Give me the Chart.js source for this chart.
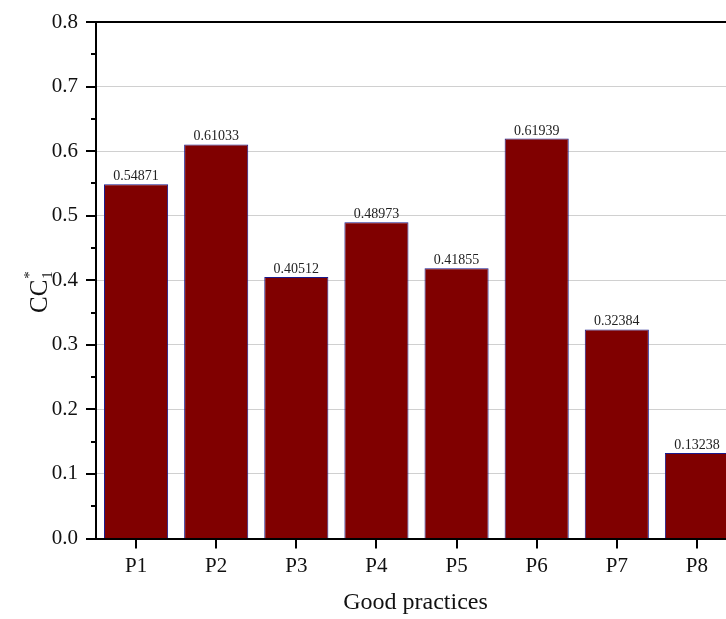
<!DOCTYPE html>
<html lang="en">
<head>
    <meta charset="UTF-8">
    <title>Good practices - CC1*</title>
    <style>
        html, body {
            margin: 0;
            padding: 0;
            overflow: hidden;
            background: #fff;
        }
        #wrap {
            width: 740px;
            height: 619px;
        }
    </style>
</head>
<body>
    <div id="wrap">
        <canvas id="myChart" width="740" height="619"></canvas>
    </div>

    <script src="https://cdn.jsdelivr.net/npm/chart.js@4"></script>
    <script>
        var categories = ['P1', 'P2', 'P3', 'P4', 'P5', 'P6', 'P7', 'P8'];
        var values = [0.54871, 0.61033, 0.40512, 0.48973, 0.41855, 0.61939, 0.32384, 0.13238];
        var valueLabels = ['0.54871', '0.61033', '0.40512', '0.48973', '0.41855', '0.61939', '0.32384', '0.13238'];
        var majorTicks = [0, 0.1, 0.2, 0.3, 0.4, 0.5, 0.6, 0.7, 0.8];
        var minorTicks = [0.05, 0.15, 0.25, 0.35, 0.45, 0.55, 0.65, 0.75];

        var serif = "'Liberation Serif', 'Times New Roman', serif";

        // ticks, frame, value labels and axis titles
        var decorations = {
            id: 'decorations',
            afterDraw: function(chart) {
                var ctx = chart.ctx;
                var area = chart.chartArea;
                var y = chart.scales.y;
                var x = chart.scales.x;
                ctx.save();
                ctx.strokeStyle = '#000';
                ctx.lineWidth = 2;
                ctx.beginPath();
                majorTicks.forEach(function(v) {
                    var py = Math.round(y.getPixelForValue(v));
                    ctx.moveTo(area.left - 10, py);
                    ctx.lineTo(area.left, py);
                });
                minorTicks.forEach(function(v) {
                    var py = Math.round(y.getPixelForValue(v));
                    ctx.moveTo(area.left - 5, py);
                    ctx.lineTo(area.left, py);
                });
                categories.forEach(function(c, i) {
                    var px = Math.round(x.getPixelForValue(i));
                    ctx.moveTo(px, area.bottom);
                    ctx.lineTo(px, area.bottom + 10);
                });
                // top frame
                ctx.moveTo(area.left - 1, area.top);
                ctx.lineTo(area.right, area.top);
                ctx.stroke();

                // value labels
                var meta = chart.getDatasetMeta(0);
                ctx.fillStyle = '#222';
                ctx.font = '14px ' + serif;
                ctx.textAlign = 'center';
                ctx.textBaseline = 'alphabetic';
                meta.data.forEach(function(bar, i) {
                    ctx.fillText(valueLabels[i], bar.x, bar.y - 4);
                });

                // x title
                ctx.fillStyle = '#111';
                ctx.font = '24px ' + serif;
                ctx.fillText('Good practices', (area.left + area.right) / 2 - 1, area.bottom + 70);

                // y title: CC with superscript * and subscript 1
                ctx.translate(47, 313);
                ctx.rotate(-Math.PI / 2);
                ctx.textAlign = 'left';
                ctx.font = '25px ' + serif;
                var w = ctx.measureText('CC').width;
                ctx.fillText('CC', 0, 0);
                ctx.font = '15px ' + serif;
                ctx.fillText('*', w + 1, -13);
                ctx.fillText('1', w + 1, 5);
                ctx.restore();
            }
        };

        var ctx = document.getElementById('myChart').getContext('2d');

        var config = {
            type: 'bar',
            data: {
                labels: categories,
                datasets: [{
                    data: values,
                    backgroundColor: '#800000',
                    borderColor: '#1a1a8c',
                    borderWidth: 1,
                    barPercentage: 0.8,
                    categoryPercentage: 1.0
                }]
            },
            options: {
                responsive: false,
                animation: false,
                layout: {
                    padding: { top: 22, right: 3, left: 0, bottom: 0 }
                },
                plugins: {
                    legend: { display: false },
                    tooltip: { enabled: false }
                },
                scales: {
                    x: {
                        grid: { display: false, drawTicks: false },
                        border: { color: '#000', width: 2 },
                        ticks: {
                            color: '#111',
                            padding: 15,
                            maxRotation: 0,
                            font: { family: serif, size: 21 }
                        },
                        afterFit: function(scale) {
                            scale.height = 80.5;
                            scale.paddingLeft = 0;
                            scale.paddingRight = 0;
                        }
                    },
                    y: {
                        min: 0,
                        max: 0.8,
                        grid: { color: '#d0d0d0', lineWidth: 1, drawTicks: false },
                        border: { color: '#000', width: 2 },
                        ticks: {
                            stepSize: 0.1,
                            color: '#111',
                            padding: 18,
                            font: { family: serif, size: 21 },
                            callback: function(v) { return v.toFixed(1); }
                        },
                        afterFit: function(scale) {
                            scale.width = 96;
                            scale.paddingTop = 0;
                            scale.paddingBottom = 0;
                        }
                    }
                }
            },
            plugins: [decorations]
        };

        var chart = new Chart(ctx, config);
    </script>
</body>
</html>
